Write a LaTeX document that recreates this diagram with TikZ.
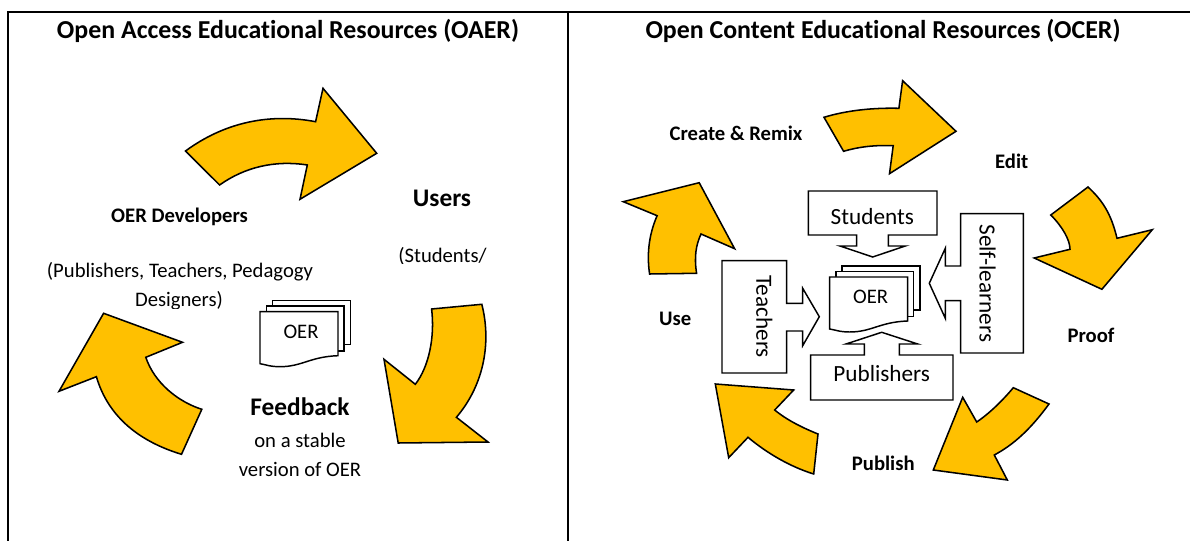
\documentclass[tikz,border=0pt]{standalone}
\usepackage{fontspec}
\setmainfont{Carlito}[Ligatures=NoCommon]
\definecolor{amber}{RGB}{255,192,0}
\tikzset{
  x=0.75pt,y=-0.75pt,
  frameline/.style={draw=black,line width=1.5pt},
  arrowshape/.style={draw=black,fill=amber,line width=1.15pt,line join=miter},
  boxshape/.style={draw=black,fill=white,line width=1.1pt},
  title/.style={font=\bfseries\fontsize{19.4}{22}\selectfont,inner sep=0pt},
  biglabel/.style={font=\bfseries\fontsize{19}{22}\selectfont,inner sep=0pt},
  boldlabel/.style={font=\bfseries\fontsize{15.5}{18}\selectfont,inner sep=0pt},
  plainlabel/.style={font=\fontsize{15.5}{18}\selectfont,inner sep=0pt},
  boxlabel/.style={font=\fontsize{17.4}{20}\selectfont,inner sep=0pt},
}
\newcommand{\oerstack}[4]{% name, x, y
  \begin{scope}[shift={(#2,#3)}]
    \draw[boxshape] (12.4,-11) rectangle (90.5,33);
    \draw[boxshape] (6.5,-5.7) rectangle (84,39.3);
    \draw[boxshape] (0,0) -- (78,0) -- (78,44) .. controls (50,45) and (42,55) .. (20,55) .. controls (10,55) and (6,53) .. (0,52) -- cycle;
    \node[plainlabel] (#1) at (41,20) {#4};
  \end{scope}}
\begin{document}
\begin{tikzpicture}
\useasboundingbox (0,0) rectangle (1190,541);
% table frame
\coordinate (tl) at (8,12);
\coordinate (tr) at (1190,12);
\coordinate (bl) at (8,541);
\coordinate (tm) at (568,12);
\coordinate (bm) at (568,541);
\draw[frameline] (bl) -- (tl) -- (tr);
\draw[frameline] (tm) -- (bm);
% left panel
\node[title] (t1) at (288,31) {Open Access Educational Resources (OAER)};
\node[title] (t2) at (883,31) {Open Content Educational Resources (OCER)};
\draw[arrowshape] (185.5,151) .. controls (225,122) and (270,113) .. (315.6,121.7) -- (323,88.3) -- (376.7,153.3) -- (300,199.3) -- (307.3,165) .. controls (275,160) and (245,167) .. (219.6,185) -- cycle;
\draw[arrowshape] (481.8,304.3) .. controls (491,340) and (485.5,383) .. (456.4,417.3) -- (488,442) -- (398.2,443) -- (384,359.3) -- (415.3,384.3) .. controls (429,366.7) and (435,336.7) .. (431.6,309) -- cycle;
\draw[arrowshape] (103.6,313.3) -- (182.5,342.3) -- (145.8,357.3) .. controls (154.5,383) and (178,401.7) .. (201.8,409.3) -- (181.5,454.3) .. controls (134.5,440) and (107,413) .. (96.4,376.7) -- (59,391.3) -- cycle;
\node[boldlabel] (dev) at (179.6,216.7) {OER Developers};
\node[biglabel] (users) at (442,198) {Users};
\begin{scope}
\clip (380,240) rectangle (510,264);
\node[plainlabel] (stud) at (442.5,256.7) {(Students/};
\end{scope}
\begin{scope}
\clip (30,255) rectangle (330,282);
\node[plainlabel] (pub1) at (180,271.5) {(Publishers, Teachers, Pedagogy};
\end{scope}
\begin{scope}
\clip (100,285) rectangle (260,309);
\node[plainlabel] (pub2) at (179,300.7) {Designers)};
\end{scope}
\oerstack{oer1}{260}{311.7}{OER}
\node[biglabel] (fb) at (300,407) {Feedback};
\node[plainlabel] (fb1) at (300,440) {on a stable};
\node[plainlabel] (fb2) at (300,469.3) {version of OER};
% right panel arrows
\draw[arrowshape] (824,117.3) .. controls (848,110) and (874.4,107.7) .. (898.9,108.3) -- (902.6,80.7) -- (956,131.3) -- (889.5,173.7) -- (893.2,145.7) .. controls (874.4,145) and (859.4,146.7) .. (843.6,151.3) -- cycle;
\draw[arrowshape] (1088,187) .. controls (1102,200) and (1111,213) .. (1117,238.3) -- (1152.3,229.7) -- (1101.9,289.3) -- (1034.2,258) -- (1070,249.3) .. controls (1070,240) and (1062.4,226.7) .. (1050.8,215) -- cycle;
\draw[arrowshape] (1013.3,387.7) -- (1049,404) .. controls (1030,430) and (1013,445) .. (994.3,455) -- (1007.3,480) -- (933.3,470) -- (962.7,397.3) -- (976.7,422) .. controls (990,413) and (1003,400) .. cycle;
\draw[arrowshape] (715.3,384) -- (793.7,390) -- (774.7,410) .. controls (786.7,420) and (803,428) .. (818,434) -- (813.7,474) .. controls (790,466.7) and (766.7,453) .. (748,437.3) -- (728.7,457.7) -- cycle;
\draw[arrowshape] (699.2,182.7) -- (623.3,201.7) -- (657.1,215.7) .. controls (648,236.7) and (647,256.7) .. (649.6,274) -- (696.6,273.3) .. controls (694,256.7) and (696,245) .. (701,234) -- (734.6,248.7) -- cycle;
% callouts
\draw[boxshape] (808.3,191) -- (937,191) -- (937,235) -- (888.3,235) -- (888.3,246) -- (905.3,246) -- (872.7,257) -- (840,246) -- (856.7,246) -- (856.7,235) -- (808.3,235) -- cycle;
\draw[boxshape] (960.7,213.7) -- (1023.3,213.7) -- (1023.3,353) -- (960.7,353) -- (960.7,300.7) -- (945.3,300.7) -- (945.3,318.3) -- (929.3,283.3) -- (945.3,248.3) -- (945.3,266) -- (960.7,266) -- cycle;
\draw[boxshape] (722,260.7) -- (786.7,260.7) -- (786.7,303.3) -- (802.7,303.3) -- (802.7,288.3) -- (819.3,316.7) -- (802.7,345.7) -- (802.7,331) -- (786.7,331) -- (786.7,373) -- (722,373) -- cycle;
\draw[boxshape] (810.7,355) -- (864.3,355) -- (864.3,344) -- (846,344) -- (881.7,332.3) -- (917.7,344) -- (899.3,344) -- (899.3,355) -- (953,355) -- (953,400) -- (810.7,400) -- cycle;
\node[boxlabel] (s) at (872.3,216.7) {Students};
\node[boxlabel,rotate=-90] (sl) at (987.7,283.3) {Self-learners};
\node[boxlabel,rotate=-90] (te) at (764.3,316.7) {Teachers};
\node[boxlabel] (pb) at (881.7,373.3) {Publishers};
\oerstack{oer2}{829.7}{277}{OER}
% stage labels
\node[boldlabel] (cr) at (736,133.3) {Create \& Remix};
\node[boldlabel] (ed) at (1011.7,161.7) {Edit};
\node[boldlabel] (pr) at (1091,335) {Proof};
\node[boldlabel] (us) at (675.3,318.7) {Use};
\node[boldlabel] (pu) at (883.3,463.3) {Publish};
\end{tikzpicture}
\end{document}
